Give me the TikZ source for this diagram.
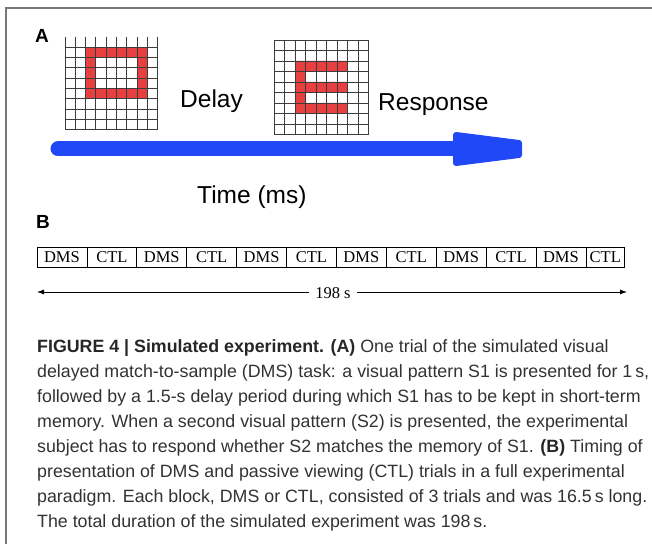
\documentclass[tikz,border=0pt]{standalone}
\usepackage{fontspec}
\setmainfont{Liberation Sans}
\newfontfamily\serifblock{Liberation Serif}
\usetikzlibrary{arrows.meta, positioning}
\definecolor{framegray}{RGB}{120,120,120}
\definecolor{gridgray}{RGB}{60,60,60}
\definecolor{patternred}{RGB}{232,64,64}
\definecolor{timeblue}{RGB}{33,72,246}
\definecolor{captiongray}{RGB}{50,50,50}

\tikzset{
	panel/.style={font=\bfseries\fontsize{19bp}{19bp}\selectfont, inner sep=0pt},
	tasktext/.style={font=\fontsize{24.5bp}{24.5bp}\selectfont, inner sep=0pt},
	gridline/.style={gridgray, line width=0.9bp},
	block/.style={draw, line width=0.8bp, minimum width=49.9bp, minimum height=19.5bp, inner sep=0pt, outer sep=0pt, font=\serifblock\fontsize{16.5bp}{16.5bp}\selectfont},
	caption/.style={font=\fontsize{17.8bp}{25bp}\selectfont, text=captiongray, align=left, inner sep=0pt}
}

\begin{document}
\begin{tikzpicture}[x=1bp, y=-1bp, > = {Latex[length=7bp,width=5bp]}]
	\useasboundingbox (0,0) rectangle (652,544);
	% frame
	\draw[framegray, line width=1.2bp] (6,544) -- (6,8) -- (652,8);

	% panel A: sample, delay, response
	\node[panel, anchor=west] (panelA) at (35,35.5) {A};

	% sample pattern (open square), top row left open
	\fill[patternred, even odd rule] (85.6,47.3) rectangle (147.4,98.8) (95.9,57.6) rectangle (137.1,88.5);
	\foreach \k in {0,...,9}
		\draw[gridline] ({65+10.3*\k},37) -- ({65+10.3*\k},129.7);
	\foreach \k in {1,...,9}
		\draw[gridline] (65,{37+10.3*\k}) -- (157.7,{37+10.3*\k});

	\node[tasktext, anchor=base west] (delay) at (180,108) {Delay};

	% response pattern (letter E)
	\fill[patternred, even odd rule] (295,61) rectangle (347.5,113.5) (305.5,71.5) rectangle (347.5,82) (305.5,92.5) rectangle (347.5,103);
	\foreach \k in {0,...,9}
		\draw[gridline] ({274+10.5*\k},40) -- ({274+10.5*\k},134.5);
	\foreach \k in {0,...,9}
		\draw[gridline] (274,{40+10.5*\k}) -- (368.5,{40+10.5*\k});

	\node[tasktext, anchor=base west] (response) at (378,111) {Response};

	% time axis
	\coordinate (tstart) at (58,149);
	\coordinate (tend) at (460,149);
	\draw[timeblue, line width=15bp, line cap=round] (tstart) -- (tend);
	\filldraw[timeblue, line width=6bp, line join=round] (456,135) -- (519,143) -- (519,155) -- (456,163) -- cycle;

	\node[tasktext, anchor=base west] (time) at (197,204) {Time (ms)};

	% panel B: block sequence
	\node[panel, anchor=west] (panelB) at (36,221.5) {B};

	\node[block, anchor=west] (dms1) at (37,257.5) {DMS};
	\node[block, right=0pt of dms1] (ctl1) {CTL};
	\node[block, right=0pt of ctl1] (dms2) {DMS};
	\node[block, right=0pt of dms2] (ctl2) {CTL};
	\node[block, right=0pt of ctl2] (dms3) {DMS};
	\node[block, right=0pt of dms3] (ctl3) {CTL};
	\node[block, right=0pt of ctl3] (dms4) {DMS};
	\node[block, right=0pt of dms4] (ctl4) {CTL};
	\node[block, right=0pt of ctl4] (dms5) {DMS};
	\node[block, right=0pt of dms5] (ctl5) {CTL};
	\node[block, right=0pt of ctl5] (dms6) {DMS};
	\node[block, right=0pt of dms6, minimum width=38.8bp] (ctl6) {CTL};

	% total duration
	\node[font=\serifblock\fontsize{16.5bp}{16.5bp}\selectfont, inner sep=6bp] (total) at (333,293) {198 s};
	\coordinate (tleft) at (37,292);
	\coordinate (tright) at (627,292);
	\draw[->, line width=0.8bp] (total.west |- tleft) -- (tleft);
	\draw[->, line width=0.8bp] (total.east |- tright) -- (tright);

	% caption
	\node[caption, anchor=north west] (caption) at (37,339.5) {%
		\textbf{\color{black!85}FIGURE 4 | Simulated experiment. (A)} One trial of the simulated visual\\
		delayed match-to-sample (DMS) task: a visual pattern S1 is presented for 1\,s,\\
		followed by a 1.5-s delay period during which S1 has to be kept in short-term\\
		memory. When a second visual pattern (S2) is presented, the experimental\\
		subject has to respond whether S2 matches the memory of S1. \textbf{\color{black!85}(B)} Timing of\\
		presentation of DMS and passive viewing (CTL) trials in a full experimental\\
		paradigm. Each block, DMS or CTL, consisted of 3 trials and was 16.5\,s long.\\
		The total duration of the simulated experiment was 198\,s.};
\end{tikzpicture}
\end{document}
